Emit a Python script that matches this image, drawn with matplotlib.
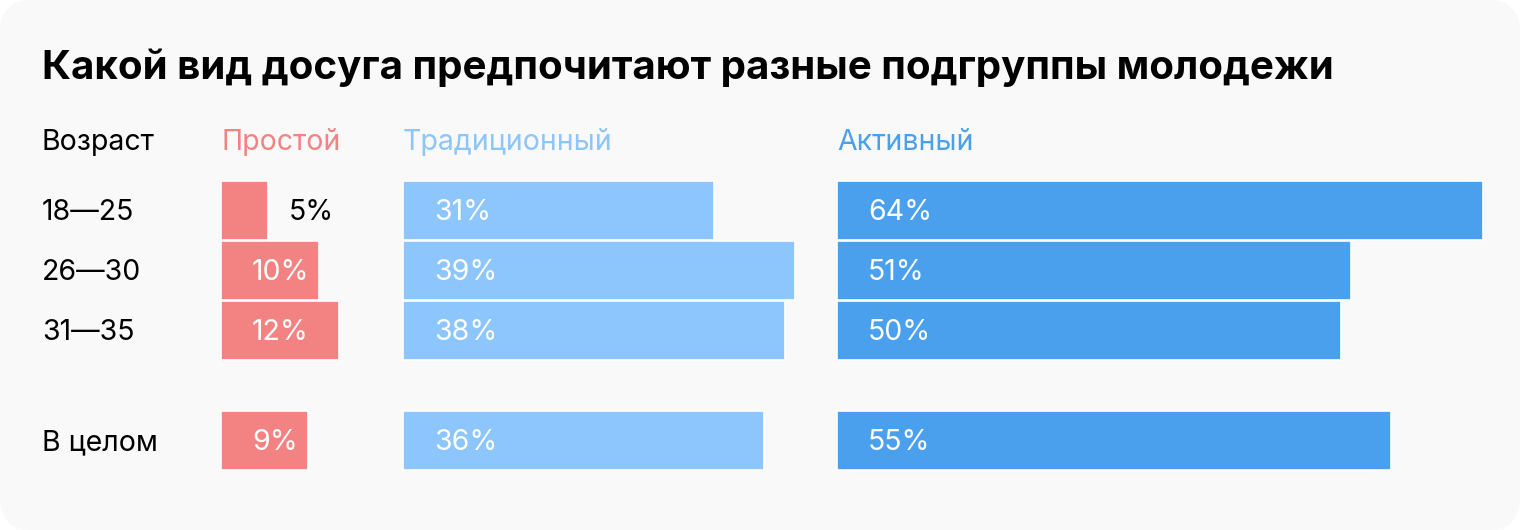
import matplotlib
matplotlib.use("Agg")
import matplotlib.pyplot as plt
from matplotlib.patches import FancyBboxPatch
import numpy as np

plt.rcParams["font.family"] = ["Inter", "DejaVu Sans"]

title = "Какой вид досуга предпочитают разные подгруппы молодежи"
row_header = "Возраст"
rows = ["18—25", "26—30", "31—35", "В целом"]
groups = ["Простой", "Традиционный", "Активный"]
simple = [5, 10, 12, 9]
traditional = [31, 39, 38, 36]
active = [64, 51, 50, 55]

colors = ["#f38383", "#8dc5fd", "#4ba0ee"]
col_left = [221, 403, 837]       # px where each column starts
row_y = [210, 270, 330, 440]     # px row centers
px_per_pct = 10.15
W, H = 1520, 530
fs = 20.5

fig = plt.figure(figsize=(W / 100, H / 100), dpi=100)
fig.patch.set_facecolor("white")
ax = fig.add_axes([0, 0, 1, 1])
ax.set_xlim(0, W)
ax.set_ylim(H, 0)
ax.axis("off")

ax.add_patch(FancyBboxPatch((0, 0), W, H, boxstyle="round,pad=0,rounding_size=32",
                            fc="#f9f9f9", ec="none", zorder=0))

ax.text(42, 79, title, fontsize=29, fontweight="bold", color="black", va="baseline")
ax.text(42, 150, row_header, fontsize=fs, color="black", va="baseline")
for g, x0, c in zip(groups, col_left, colors):
    ax.text(x0, 150, g, fontsize=fs, color=c, va="baseline")

for r, y in zip(rows, row_y):
    ax.text(42, y + 10, r, fontsize=fs, color="black", va="baseline")

for vals, x0, c in zip([simple, traditional, active], col_left, colors):
    w = np.array(vals) * px_per_pct - 4
    ax.barh(row_y, w, left=x0, height=59, color=c, edgecolor="white", lw=1.2, zorder=2)
    for v, wi, y in zip(vals, w, row_y):
        if wi < 60:
            ax.text(x0 + wi + 21, y + 10, f"{v}%", fontsize=fs, color="black", va="baseline", zorder=3)
        else:
            ax.text(x0 + 31, y + 10, f"{v}%", fontsize=fs, color="white", va="baseline", zorder=3)

fig.savefig("out.png", dpi=100, facecolor="white")
